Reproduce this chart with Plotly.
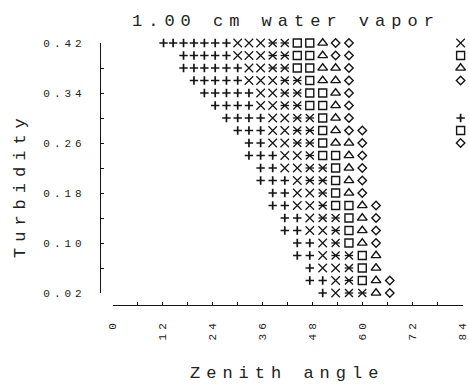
import plotly.graph_objects as go

# ---- data ----
TURBIDITY = [0.42, 0.40, 0.38, 0.36, 0.34, 0.32, 0.30, 0.28, 0.26, 0.24, 0.22,
             0.20, 0.18, 0.16, 0.14, 0.12, 0.10, 0.08, 0.06, 0.04, 0.02]
# zenith angles of the symbol columns (deg)
ANGLES = [12.2, 14.5, 17.0, 19.5, 22.0, 24.6, 27.3, 30.0, 32.7, 35.5,
          38.4, 41.3, 44.3, 47.3, 50.4, 53.5, 56.7, 59.9, 63.2, 66.5]
# first column index of each row
ROW_START = [0, 2, 2, 3, 4, 5, 6, 7, 8, 8, 9, 9, 10, 10, 11, 11, 12, 12, 13, 13, 14]
# symbol codes per row: + cross, x X, * asterisk, s square, t triangle, d diamond
ROW_CODES = [
    "+++++++xxx**sstdd",
    "+++++xxx**sstdd",
    "++++++xx**ssttd",
    "+++++xxx**sttd",
    "+++++xx**sstd",
    "++++xx**sstd",
    "++++xx**std",
    "+++xx**stdd",
    "++xx**sttd",
    "+++xx*sstd",
    "++xx**std",
    "+++x**std",
    "++xx*std",
    "++xx*sstd",
    "++x**std",
    "++xx*std",
    "++x*std",
    "++x**st",
    "+xx*st",
    "++x*std",
    "+x**td",
]
# key symbols at the right edge
KEY_ANGLE = 83.5
KEY_CODES = ["x", "s", "t", "d", "+", "s", "d"]
KEY_TURB = [0.42, 0.40, 0.38, 0.36, 0.30, 0.28, 0.26]

X_TICKS = [0, 12, 24, 36, 48, 60, 72, 84]
Y_TICKS = [0.02, 0.10, 0.18, 0.26, 0.34, 0.42]
Y_TICK_TEXT = ["0.02", "0.10", "0.18", "0.26", "0.34", "0.42"]

INK = "#151515"
FONT = "Liberation Mono"

STYLES = {
    "+": [dict(symbol="cross-thin-open", size=6, color=INK, line=dict(width=1.7, color=INK))],
    "x": [dict(symbol="x-thin-open", size=8.5, color=INK, line=dict(width=1.2, color=INK))],
    "*": [dict(symbol="x-thin-open", size=8, color=INK, line=dict(width=1.3, color=INK)),
          dict(symbol="line-ew-open", size=6, color=INK, line=dict(width=1.3, color=INK))],
    "s": [dict(symbol="square-open", size=8, color=INK, line=dict(width=1.4, color=INK))],
    "t": [dict(symbol="triangle-up-open", size=8.5, color=INK, line=dict(width=1.4, color=INK))],
    "d": [dict(symbol="diamond-open", size=6.5, color=INK, line=dict(width=1.4, color=INK))],
}

pts = {k: ([], []) for k in STYLES}
for turb, start, codes in zip(TURBIDITY, ROW_START, ROW_CODES):
    for i, c in enumerate(codes):
        pts[c][0].append(ANGLES[start + i])
        pts[c][1].append(turb)
for c, t in zip(KEY_CODES, KEY_TURB):
    pts[c][0].append(KEY_ANGLE)
    pts[c][1].append(t)

fig = go.Figure()
for c, (xs, ys) in pts.items():
    for m in STYLES[c]:
        fig.add_trace(go.Scatter(x=xs, y=ys, mode="markers", marker=m,
                                 cliponaxis=False, hoverinfo="skip"))

W, H = 469, 388
def px(x):
    return x / W
def py(y):
    return (H - y) / H

fig.update_layout(
    width=W, height=H, margin=dict(l=0, r=0, t=0, b=0),
    paper_bgcolor="white", plot_bgcolor="white", showlegend=False,
    font=dict(family=FONT, color="#222", size=11),
    xaxis=dict(range=[0, 84], domain=[px(112.7), px(462.7)], anchor="free",
               position=py(304.7), showline=True, linecolor=INK, linewidth=1.2,
               ticks="inside", ticklen=3, tickcolor=INK, tickwidth=1,
               tickvals=X_TICKS, ticktext=[str(v) for v in X_TICKS], tickangle=-90,
               minor=dict(dtick=6, tick0=0, ticks="inside", ticklen=3, tickcolor=INK),
               showgrid=False, zeroline=False, automargin=False,
               ticklabeloverflow="allow",
               ticklabelstandoff=9, tickfont=dict(family=FONT, size=11, color="#222")),
    yaxis=dict(range=[0.02, 0.42], domain=[py(293), py(43)], anchor="free",
               position=px(100), showline=True, linecolor=INK, linewidth=1.2,
               ticks="inside", ticklen=3, tickcolor=INK, tickwidth=1,
               tickvals=Y_TICKS, ticktext=Y_TICK_TEXT,
               minor=dict(dtick=0.04, tick0=0.02, ticks="inside", ticklen=3, tickcolor=INK),
               showgrid=False, zeroline=False, automargin=False,
               ticklabeloverflow="allow",
               ticklabelstandoff=12, tickfont=dict(family=FONT, size=11, color="#222")),
    annotations=[
        dict(text="1.00 cm water vapor", x=px(286), y=py(21), xref="paper", yref="paper",
             showarrow=False, xanchor="center", yanchor="middle",
             font=dict(family=FONT, size=17, color="#222")),
        dict(text="Zenith angle", x=px(287), y=py(373), xref="paper", yref="paper",
             showarrow=False, xanchor="center", yanchor="middle",
             font=dict(family=FONT, size=17, color="#222")),
        dict(text="Turbidity", x=px(20), y=py(185), xref="paper", yref="paper",
             showarrow=False, xanchor="center", yanchor="middle", textangle=-90,
             font=dict(family=FONT, size=17, color="#222")),
    ],
)

POST = """
var gd = document.getElementById('{plot_id}');
function ls(){
  gd.querySelectorAll('.xtick text, .ytick text').forEach(function(t){ t.style.letterSpacing='4px'; });
  gd.querySelectorAll('.annotation-text').forEach(function(t){ t.style.letterSpacing='6px'; });
}
ls();
if (gd.on) { gd.on('plotly_afterplot', ls); }
"""

fig.write_html("out.html", post_script=POST)
